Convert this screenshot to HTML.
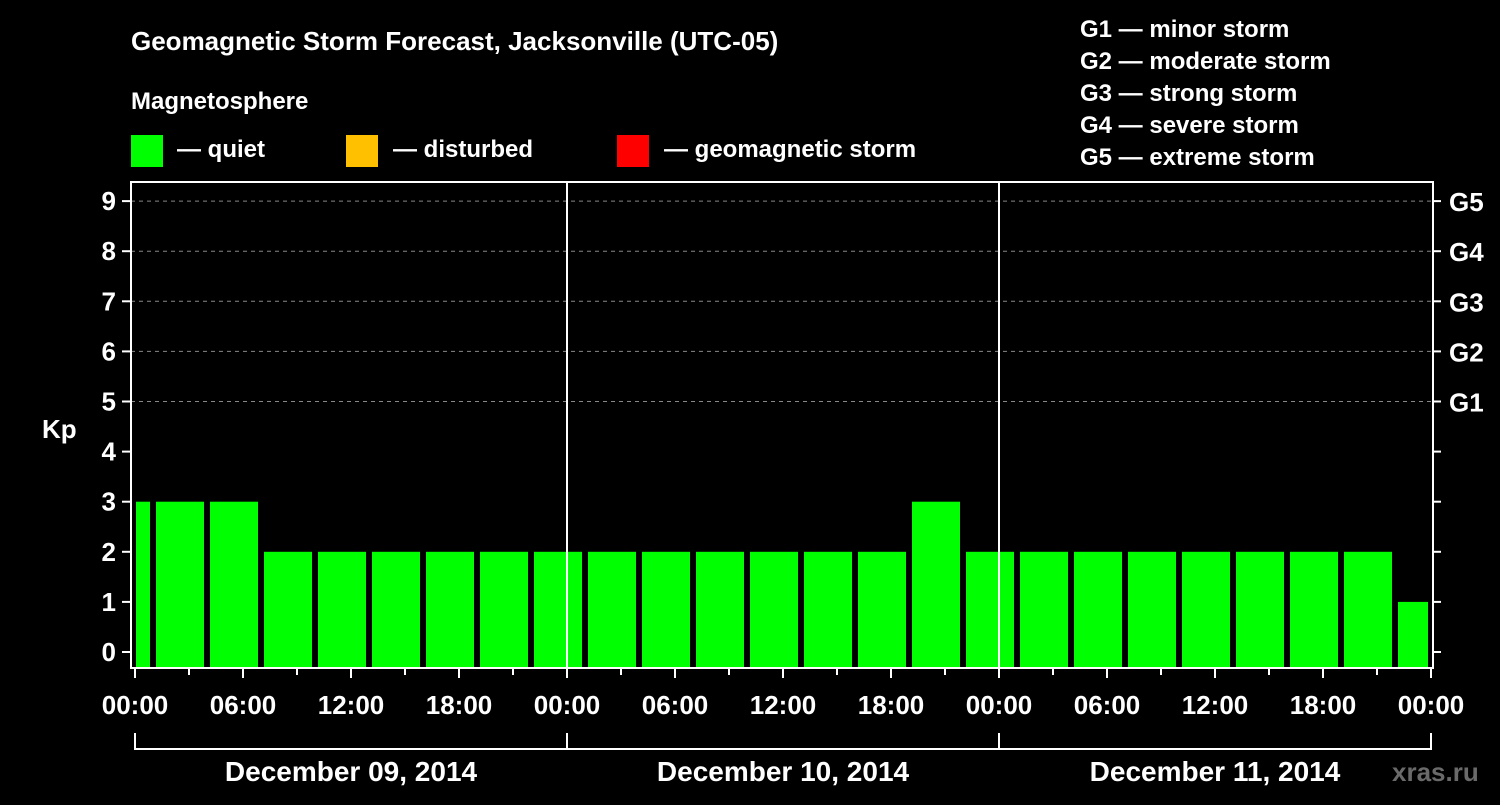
<!DOCTYPE html>
<html><head><meta charset="utf-8"><style>
body{margin:0;background:#000;width:1500px;height:800px;overflow:hidden}
svg text{font-family:"Liberation Sans",Arial,sans-serif;font-weight:bold;fill:#fff}
</style></head><body>
<svg id="c" width="1500" height="800" viewBox="0 0 1500 800">
<text x="131" y="50" font-size="26">Geomagnetic Storm Forecast, Jacksonville (UTC-05)</text>
<text x="131" y="109" font-size="24">Magnetosphere</text>
<g><rect x="131" y="135" width="32" height="32" fill="#00ff00"/><text x="177" y="157" font-size="24">— quiet</text></g>
<g><rect x="346" y="135" width="32" height="32" fill="#ffc000"/><text x="393" y="157" font-size="24">— disturbed</text></g>
<g><rect x="617" y="135" width="32" height="32" fill="#ff0000"/><text x="664" y="157" font-size="24">— geomagnetic storm</text></g>
<g font-size="24">
<text x="1080" y="37">G1 — minor storm</text><text x="1080" y="69">G2 — moderate storm</text><text x="1080" y="101">G3 — strong storm</text><text x="1080" y="133">G4 — severe storm</text><text x="1080" y="165">G5 — extreme storm</text></g>
<text x="42" y="438" font-size="26">Kp</text>
<g id="grid"></g><g id="bars"></g><g id="axes"></g>
<text x="1392" y="781" font-size="26" fill="#666" style="fill:#6a6a6a">xras.ru</text>
</svg>
<script>
const values=[3,3,3,2,2,2,2,2,2,2,2,2,2,2,2,3,2,2,2,2,2,2,2,2,1];
const dayLabels=["December 09, 2014","December 10, 2014","December 11, 2014"];
const yTicks=[0,1,2,3,4,5,6,7,8,9];
const gLabels=["G1","G2","G3","G4","G5"];
const hourLabels=["00:00","06:00","12:00","18:00"];
const NS="http://www.w3.org/2000/svg";
const X0=135,PXH=18,Y0=652,PXK=50.1,L=131,R=1433,T=182,B=668;
const x=h=>X0+h*PXH, y=k=>Y0-k*PXK;
function mk(p,tag,a){const e=document.createElementNS(NS,tag);for(const k in a)e.setAttribute(k,a[k]);p.appendChild(e);return e;}
const grid=document.getElementById('grid'),bars=document.getElementById('bars'),axes=document.getElementById('axes');
for(let k=5;k<=9;k++){const l=mk(grid,'line',{x1:L,x2:R,y1:y(k),y2:y(k),stroke:'#888','stroke-dasharray':'4 4','stroke-width':1});

}
values.forEach((v,i)=>{const c=-0.5+3*i;let a=x(c-1.5)+3,b=x(c+1.5)-3;a=Math.max(a,136);b=Math.min(b,1428);
const r=mk(bars,'rect',{x:a,y:y(v),width:b-a,height:B-y(v),fill:'#00ff00'});

});
mk(axes,'rect',{x:L,y:T,width:R-L,height:B-T,fill:'none',stroke:'#fff','stroke-width':2});
for(let d=1;d<3;d++)mk(axes,'line',{x1:x(24*d),x2:x(24*d),y1:T,y2:B,stroke:'#fff','stroke-width':2});
yTicks.forEach(k=>{mk(axes,'line',{x1:122,x2:L,y1:y(k),y2:y(k),stroke:'#fff','stroke-width':2});
mk(axes,'line',{x1:R,x2:1441,y1:y(k),y2:y(k),stroke:'#fff','stroke-width':2});
const t=mk(axes,'text',{x:116,y:y(k)+9,'font-size':26,'text-anchor':'end'});t.textContent=k;

});
gLabels.forEach((g,i)=>{const t=mk(axes,'text',{x:1449,y:y(5+i)+10,'font-size':26});t.textContent=g;

});
for(let h=0;h<=72;h+=3){const maj=h%6==0;mk(axes,'line',{x1:x(h),x2:x(h),y1:B,y2:B+(maj?10:7),stroke:'#fff','stroke-width':2});
if(maj&&h%6==0&&(h%24)%6==0){}}
for(let d=0;d<3;d++)hourLabels.forEach((s,j)=>{const t=mk(axes,'text',{x:x(24*d+6*j),y:714,'font-size':26,'text-anchor':'middle'});t.textContent=s;

});
{const t=mk(axes,'text',{x:x(72),y:714,'font-size':26,'text-anchor':'middle'});t.textContent="00:00";

}
mk(axes,'polyline',{points:`${x(0)},733 ${x(0)},749 ${x(72)},749 ${x(72)},733`,fill:'none',stroke:'#fff','stroke-width':2});
for(let d=1;d<3;d++)mk(axes,'line',{x1:x(24*d),x2:x(24*d),y1:733,y2:749,stroke:'#fff','stroke-width':2});
dayLabels.forEach((s,d)=>{const t=mk(axes,'text',{x:x(24*d+12),y:781,'font-size':28,'text-anchor':'middle'});t.textContent=s;

});
</script>
</body></html>
